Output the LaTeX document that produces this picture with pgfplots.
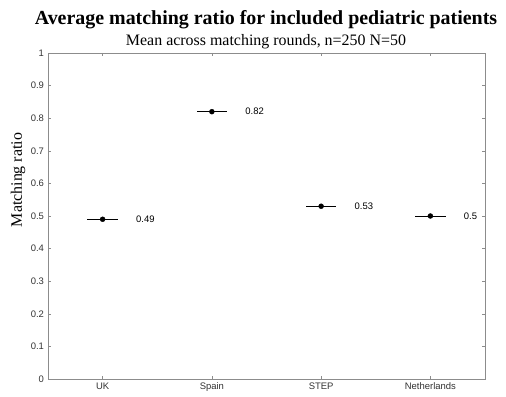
\documentclass[border=0pt]{standalone}
\usepackage{pgfplots}
\pgfplotsset{compat=1.18}
\usepackage{fontspec}
\setmainfont{Liberation Serif}
\newfontfamily\helv{Liberation Sans}

\pgfplotstableread{
x  y     lab
1  0.49  0.49
2  0.82  0.82
3  0.53  0.53
4  0.50  0.5
}\ratios

\begin{document}
\begin{tikzpicture}[x=1bp,y=1bp]
\path[use as bounding box] (0,0) rectangle (506,396);
\begin{axis}[
  at={(48bp,17bp)}, anchor=south west,
  scale only axis, width=437bp, height=326bp,
  xmin=0.5, xmax=4.5, ymin=0, ymax=1,
  xtick={1,2,3,4},
  xticklabels={UK,Spain,STEP,Netherlands},
  ytick={0,0.1,...,1},
  yticklabels={0,0.1,0.2,0.3,0.4,0.5,0.6,0.7,0.8,0.9,1},
  tick align=inside,
  major tick length=3bp,
  axis line style={black!45, line width=0.6pt},
  tick style={black!45, line width=0.6pt},
  tick label style={font=\helv\fontsize{9.5}{11}\selectfont, text=black!80},
  xticklabel style={yshift=0bp},
  yticklabel style={xshift=-0.5bp},
  clip=false,
]
\addplot[
  only marks, mark=*, mark size=2.5pt, black,
  error bars/.cd, x dir=both, x fixed=0.14,
  error mark=none,
  error bar style={black, line width=0.9pt},
] table[x=x, y=y] {\ratios};
\addplot[
  only marks, mark=none,
  nodes near coords,
  point meta=explicit symbolic,
  nodes near coords style={anchor=west, xshift=30bp,
    font=\helv\fontsize{9.5}{11}\selectfont, text=black},
] table[x=x, y=y, meta=lab] {\ratios};
\end{axis}
\node[font=\bfseries\fontsize{20}{24}\selectfont] at (266,376) {Average matching ratio for included pediatric patients};
\node[font=\fontsize{16}{19}\selectfont] at (266,354) {Mean across matching rounds, n=250 N=50};
\node[font=\fontsize{16}{19}\selectfont, rotate=90] at (18,216) {Matching ratio};
\end{tikzpicture}
\end{document}
